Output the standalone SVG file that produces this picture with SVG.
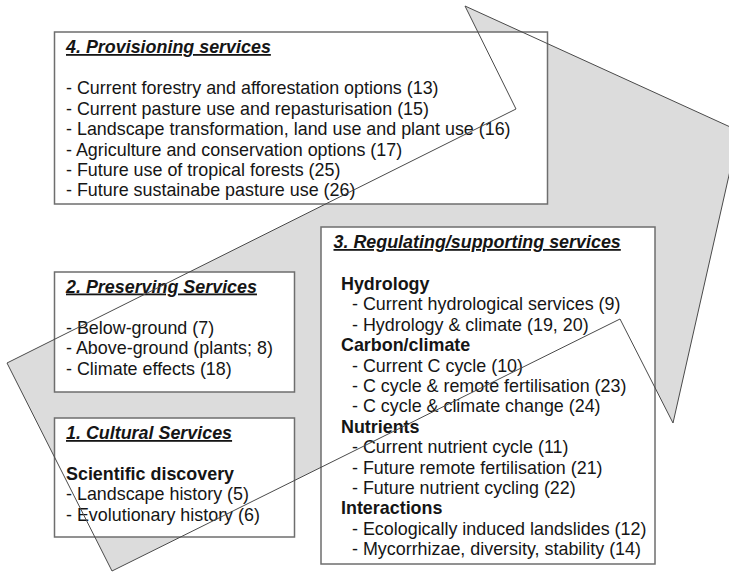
<svg xmlns="http://www.w3.org/2000/svg" width="729" height="573" viewBox="0 0 729 573">
<style>
  text { font-family: "Liberation Sans", Arial, sans-serif; font-size: 17.9px; fill: #151515; }
  .title { font-weight: bold; font-style: italic; text-decoration: underline; }
  .head { font-weight: bold; }
  .box { fill: #ffffff; stroke: #6e6e6e; stroke-width: 1.5; }
  .arrow-fill { fill: #dcdcdc; stroke: none; }
  .arrow-line { fill: none; stroke: #4a4a4a; stroke-width: 1; stroke-linejoin: miter; }
</style>
<rect x="0" y="0" width="729" height="573" fill="#ffffff"/>
<defs>
  <polygon id="arrowShape" points="465,6 739,131 673,423 620,319 112,571 7,363 516,109"/>
</defs>
<g id="cycle-arrow">
  <use href="#arrowShape" class="arrow-fill"/>
</g>
<g id="provisioning">
  <rect class="box" x="54.5" y="32" width="493" height="172"/>
  <text class="title" x="66" y="53">4. Provisioning services</text>
  <text x="66" y="94.3">- Current forestry and afforestation options (13)</text>
  <text x="66" y="114.7">- Current pasture use and repasturisation (15)</text>
  <text x="66" y="135.1">- Landscape transformation, land use and plant use (16)</text>
  <text x="66" y="155.5">- Agriculture and conservation options (17)</text>
  <text x="66" y="175.9">- Future use of tropical forests (25)</text>
  <text x="66" y="196.3">- Future sustainabe pasture use (26)</text>
</g>
<g id="preserving">
  <rect class="box" x="54.5" y="272" width="240" height="120"/>
  <text class="title" x="66" y="292.5">2. Preserving Services</text>
  <text x="66" y="334">- Below-ground (7)</text>
  <text x="66" y="354.4">- Above-ground (plants; 8)</text>
  <text x="66" y="374.8">- Climate effects (18)</text>
</g>
<g id="cultural">
  <rect class="box" x="54.5" y="418" width="240" height="119"/>
  <text class="title" x="66" y="439">1. Cultural Services</text>
  <text class="head" x="66" y="480">Scientific discovery</text>
  <text x="66" y="500.4">- Landscape history (5)</text>
  <text x="66" y="520.8">- Evolutionary history (6)</text>
</g>
<g id="regulating">
  <rect class="box" x="321" y="227" width="334" height="337"/>
  <text class="title" x="333.5" y="248">3. Regulating/supporting services</text>
  <text class="head" x="341" y="290">Hydrology</text>
  <text x="352" y="310.4">- Current hydrological services (9)</text>
  <text x="352" y="330.8">- Hydrology &amp; climate (19, 20)</text>
  <text class="head" x="341" y="351.2">Carbon/climate</text>
  <text x="352" y="371.6">- Current C cycle (10)</text>
  <text x="352" y="392">- C cycle &amp; remote fertilisation (23)</text>
  <text x="352" y="412.4">- C cycle &amp; climate change (24)</text>
  <text class="head" x="341" y="432.8">Nutrients</text>
  <text x="352" y="453.2">- Current nutrient cycle (11)</text>
  <text x="352" y="473.6">- Future remote fertilisation (21)</text>
  <text x="352" y="494">- Future nutrient cycling (22)</text>
  <text class="head" x="341" y="514.4">Interactions</text>
  <text x="352" y="534.8">- Ecologically induced landslides (12)</text>
  <text x="352" y="555.2">- Mycorrhizae, diversity, stability (14)</text>
</g>
<g id="cycle-arrow-outline">
  <use href="#arrowShape" class="arrow-line"/>
</g>
</svg>
